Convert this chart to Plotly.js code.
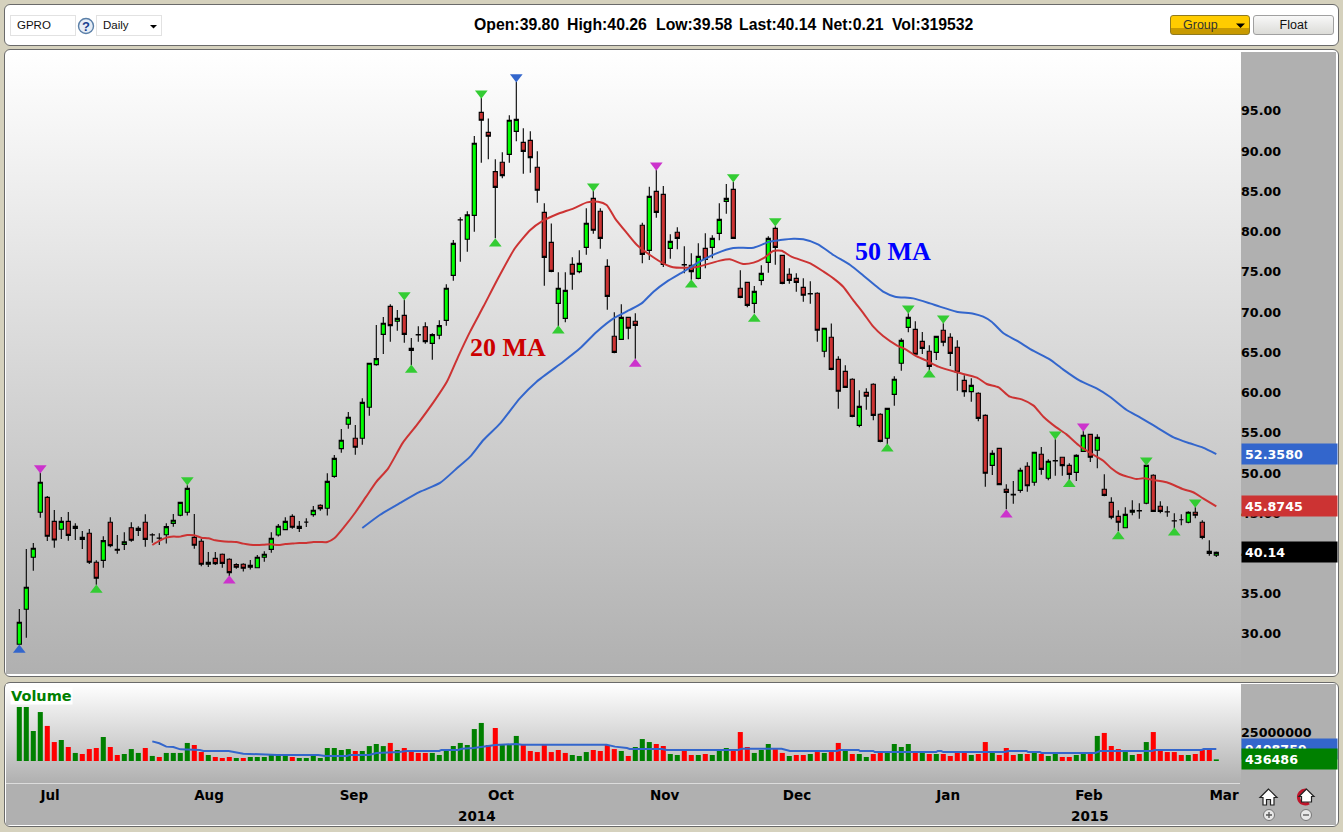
<!DOCTYPE html>
<html>
<head>
<meta charset="utf-8">
<script src="https://cdn.plot.ly/plotly-3.0.1.min.js"></script>
<style>
html,body{margin:0;padding:0;background:#d5d1bd;width:1343px;height:832px;overflow:hidden}
.abs{position:absolute;box-sizing:border-box}
.panel{border:1px solid #6a6a6a;border-radius:6px;background:#fff;overflow:hidden}
.ui{font-family:"Liberation Sans",Arial,sans-serif;font-size:12px;color:#111;white-space:nowrap}
.stat{font-family:"Liberation Sans",Arial,sans-serif;font-weight:bold;font-size:15.8px;color:#000;top:16px;white-space:nowrap}
#chart{position:absolute;left:0;top:0;width:1343px;height:832px}
</style>
</head>
<body>
<div class="abs panel" style="left:4px;top:4px;width:1335px;height:42px"></div>
<div class="abs ui" style="left:10px;top:15px;width:66px;height:21px;border:1px solid #e2e2e2;padding:3px 0 0 6px;font-size:11.5px">GPRO</div>
<svg class="abs" style="left:77px;top:17px" width="18" height="18"><circle cx="9" cy="9" r="7.5" fill="#e6edf6" stroke="#5a7fa8" stroke-width="1.4"/><text x="9" y="13.5" text-anchor="middle" font-family="Liberation Sans" font-weight="bold" font-size="13" fill="#1a3f8f">?</text></svg>
<div class="abs ui" style="left:96px;top:15px;width:66px;height:21px;border:1px solid #e2e2e2;padding:3px 0 0 6px;font-size:11.5px">Daily</div>
<svg class="abs" style="left:149px;top:24px" width="10" height="6"><path d="M1 1H8L4.5 4.5Z" fill="#000"/></svg>
<div id="stats"></div>
<div class="abs ui" style="left:1170px;top:15px;width:80px;height:20px;border:1px solid #8f7a20;border-radius:3px;background:linear-gradient(#ffcc00 0,#ffcc00 68%,#c89a00 68%,#c89a00 100%);padding:2px 0 0 12px;font-size:12.5px;color:#333">Group</div>
<svg class="abs" style="left:1235px;top:23px" width="11" height="6"><path d="M1 0.5H10L5.5 5Z" fill="#000"/></svg>
<div class="abs ui" style="left:1253px;top:15px;width:81px;height:20px;border:1px solid #a0a0a0;border-radius:3px;background:linear-gradient(#f8f8f8,#dcdcd8);text-align:center;padding-top:2px;font-size:12.5px">Float</div>

<div class="abs panel" style="left:4px;top:49px;width:1335px;height:628px"></div>
<div class="abs" style="left:6px;top:52px;width:1235px;height:622px;background:linear-gradient(#ffffff,#b0b0b0)"></div>
<div class="abs" style="left:1241px;top:52px;width:95px;height:622px;background:#b0b0b0"></div>

<div class="abs panel" style="left:4px;top:682px;width:1335px;height:145px"></div>
<div class="abs" style="left:6px;top:684px;width:1235px;height:99px;background:linear-gradient(#ffffff,#b0b0b0)"></div>
<div class="abs" style="left:6px;top:783px;width:1235px;height:42px;background:#b0b0b0"></div>
<div class="abs" style="left:1241px;top:684px;width:95px;height:141px;background:#b0b0b0"></div>

<div id="chart"></div>

<svg class="abs" style="left:1256px;top:786px" width="64" height="38">
  <path d="M12.5 3L4 11.5H7V19H10.5V13.5H14.5V19H18V11.5H21L12.5 3Z" fill="#fff" stroke="#222" stroke-width="1.2"/>
  <circle cx="13" cy="29" r="5.5" fill="#e8e8e8" stroke="#777"/><path d="M10 29H16M13 26V32" stroke="#555" stroke-width="1.3"/>
  <path d="M50 4a7 7 0 1 0 3 13" fill="none" stroke="#c0142a" stroke-width="3"/>
  <path d="M50.5 3L43 10.5H45.5V16H55.5V10.5H58L50.5 3Z" fill="#fff" stroke="#222" stroke-width="1.2"/>
  <circle cx="50" cy="29" r="5.5" fill="#e8e8e8" stroke="#777"/><path d="M47 29H53" stroke="#555" stroke-width="1.3"/>
</svg>

<script>
var opens = [
28.72,33.07,39.53,45.12,46.98,44.0,43.01,44.0,43.13,41.76,
42.51,38.91,39.15,43.88,40.52,41.14,43.21,42.88,43.88,42.34,
41.93,42.34,43.75,44.75,45.12,42.01,41.52,38.66,39.4,39.9,
39.28,38.62,38.66,38.53,38.24,39.53,40.52,42.3,42.97,44.62,
43.13,43.9,44.83,45.99,45.62,49.59,53.03,56.06,54.32,54.32,
58.17,63.47,67.24,70.72,68.86,69.6,65.5,67.2,68.19,66.12,
67.12,68.98,74.57,81.49,79.05,82.03,94.83,92.34,87.46,88.62,
89.61,92.47,91.1,91.35,88.0,82.4,78.67,71.09,69.23,75.94,
75.03,78.05,84.14,82.53,75.69,67.0,66.62,69.35,68.86,80.79,
77.68,85.01,84.64,77.93,79.92,75.9,75.82,74.2,77.93,78.05,
79.79,83.77,85.26,72.96,73.7,71.09,73.95,76.19,80.41,77.06,
74.7,74.2,73.08,72.3,72.34,65.13,66.87,64.13,62.64,61.65,
55.93,60.03,61.03,57.3,54.32,59.78,63.64,68.11,67.86,66.37,
65.13,65.0,67.74,66.87,65.63,61.52,60.12,59.91,57.17,50.96,
53.07,47.98,47.36,47.85,50.84,48.85,52.33,49.35,51.54,51.96,
50.96,50.09,52.7,54.81,52.83,47.98,46.36,44.62,43.2,45.12,
45.33,46.24,49.72,45.87,45.2,44.08,44.2,43.88,45.12,43.88,
40.27,39.80];
var highs = [
33.11,40.56,41.31,50.09,47.15,45.41,44.54,45.16,43.75,42.8,
43.05,39.15,42.14,44.5,42.3,42.63,43.88,43.38,44.87,42.51,
42.51,43.75,44.91,46.36,48.48,44.91,41.85,40.19,40.19,40.0,
39.4,38.78,38.78,39.2,39.82,40.27,42.63,43.67,44.5,44.87,
44.04,44.37,45.91,46.11,49.97,52.25,55.48,57.59,55.97,59.29,
63.72,68.4,69.4,70.97,70.26,71.51,66.78,68.24,68.73,67.37,
68.98,73.45,78.96,81.78,82.53,91.89,96.61,94.08,88.99,89.86,
94.46,98.64,92.84,92.47,89.98,83.52,81.03,74.95,74.95,76.81,
77.68,82.9,85.05,82.9,76.56,69.97,70.97,69.35,69.85,81.12,
85.59,87.66,85.67,79.67,80.54,78.18,77.31,78.55,79.79,79.54,
83.52,85.92,86.17,75.19,73.7,73.25,75.82,79.42,80.66,77.06,
75.44,74.82,74.2,73.83,72.46,67.99,68.6,64.51,63.39,61.77,
60.28,60.53,61.15,57.42,58.04,62.02,66.74,69.85,68.86,67.53,
65.87,66.99,68.61,67.37,66.49,62.15,61.77,60.03,57.3,52.83,
53.07,48.6,49.01,50.67,51.33,52.58,53.24,51.71,54.19,52.04,
51.21,52.33,55.23,54.81,54.81,49.84,46.98,45.37,45.74,46.61,
46.24,51.09,49.84,46.49,45.87,44.99,44.87,45.24,45.74,44.13,
41.64,40.26];
var lows = [
28.72,29.54,37.87,44.46,41.56,40.73,41.81,41.6,41.68,40.56,
38.7,36.13,38.24,40.77,39.98,40.44,41.47,42.18,40.85,41.35,
41.06,41.23,43.34,44.62,44.71,40.6,38.41,38.33,38.57,38.24,
37.21,38.12,37.75,38.0,38.16,38.99,40.11,42.1,42.88,43.09,
42.68,43.3,44.58,45.33,44.71,49.43,52.53,55.52,52.29,53.53,
57.13,63.35,64.8,66.33,67.7,66.2,63.43,66.33,66.08,64.09,
66.62,68.32,73.91,76.27,77.51,80.0,88.57,88.99,79.17,86.63,
88.57,91.23,87.21,87.33,83.6,73.29,74.95,68.28,68.73,72.79,
74.82,77.14,79.75,77.89,70.31,64.88,66.62,66.62,64.22,76.07,
76.48,81.74,75.61,76.64,77.8,74.82,74.03,74.08,75.44,76.69,
78.92,82.24,79.17,71.71,70.6,69.85,73.33,74.9,75.9,73.45,
73.54,72.54,71.3,71.05,66.33,64.38,62.77,58.0,60.65,56.93,
55.68,57.88,56.55,53.82,53.57,58.38,62.73,67.49,64.76,64.8,
62.77,64.05,65.75,63.31,60.24,59.49,58.87,56.43,48.31,49.76,
48.48,45.49,46.2,47.56,47.69,48.43,49.8,49.1,49.68,49.68,
48.72,49.01,52.7,51.38,50.59,47.11,44.25,42.76,43.13,44.75,
44.33,46.11,45.24,44.99,44.58,43.13,43.5,43.75,44.37,41.76,
39.73,39.58];
var closes = [
31.45,35.8,40.65,48.85,42.14,41.68,44.0,42.26,43.38,42.01,
38.91,36.92,41.6,40.98,40.4,41.47,41.64,43.13,41.76,42.3,
41.89,43.34,44.13,46.36,48.1,41.02,38.66,38.91,38.74,38.78,
37.62,38.29,38.16,38.29,39.53,39.9,41.89,43.38,44.0,43.26,
43.38,43.9,45.37,45.58,48.97,51.83,54.07,56.93,53.2,58.79,
63.64,64.22,68.61,68.32,69.23,67.24,65.25,67.16,66.33,67.2,
68.32,72.96,78.55,81.45,82.11,90.98,93.84,91.85,85.51,86.96,
93.84,93.96,89.98,89.2,85.14,76.81,75.07,72.96,72.71,74.7,
76.06,81.04,80.17,79.17,71.96,65.0,69.35,67.99,68.36,77.18,
84.39,82.4,75.94,78.8,79.17,75.86,75.03,76.93,76.56,79.17,
81.53,84.14,79.17,71.84,70.84,72.58,74.82,79.17,78.05,73.58,
73.95,73.7,72.09,72.25,67.74,67.99,62.89,60.16,60.65,57.05,
58.29,59.54,57.17,53.94,58.04,61.65,66.49,69.35,64.76,65.5,
63.26,66.99,66.25,64.88,62.52,60.12,60.9,56.8,49.97,52.45,
48.56,47.6,47.27,50.34,48.43,52.58,50.46,51.46,51.5,50.92,
49.84,52.2,54.69,51.96,54.44,47.23,44.5,43.88,44.87,45.37,
45.29,50.96,45.24,45.24,45.16,44.04,44.2,45.12,44.75,42.01,
40.02,40.14];

var volumeMillions = [
47,47,26.1,42.6,30.5,16.5,18.3,12.2,7,6.1,
10.4,11.3,20.9,12.2,5.2,6.1,10.4,7,11.3,4.4,
3.5,7,7,7,15.7,13.9,7.8,5.2,3.5,2.6,
3.5,2.6,2.6,3.5,3.5,3.5,5.2,5.2,4.4,3.5,
2.6,2.6,4.4,2.6,11.3,11.3,9.6,10.4,8.7,8.7,
13,14.8,13,15.7,9.6,11.3,8.7,7,7,7,
5.2,8.7,13.05,15.7,13.9,27.8,33.1,13.9,28.7,13.9,
13.9,21.8,13.9,8.7,7.8,13.9,7.8,9.6,7,5.2,
4.35,7.8,9.6,8.7,13.9,10.4,8.7,4.35,12.2,19.1,
16.5,14.8,13.05,6.1,5.2,8.7,5.2,5.2,6.1,5.2,
8.7,11.3,8.7,25.2,12.2,7,9.6,14.8,10.4,7,
4.35,5.2,5.2,6.1,7.8,7,7.8,15.7,8.7,6.1,
6.1,3.5,6.1,7,7,14.8,12.2,14.8,7,7,
6.1,6.1,6.1,4.35,7,7,5.2,6.1,16.5,7,
5.2,11.3,5.2,6.1,6.1,7,6.1,4.35,6.1,3.5,
3.5,5.2,6.1,6.1,21.8,24.4,13.05,10.4,7.8,5.2,
6.1,16.5,25.2,8.7,7.8,7.8,5.2,5.2,6.1,9.6,
10.4,1.4];
var volumeUp = [
1,1,1,1,0,0,1,0,1,0,
0,0,1,0,0,1,1,1,0,1,
0,1,1,1,1,0,0,1,0,0,
0,1,0,1,1,1,1,1,1,0,
1,1,1,1,1,1,1,1,0,1,
1,1,1,0,1,0,0,0,0,1,
1,1,1,1,1,1,1,0,0,1,
1,1,0,0,0,0,0,0,0,1,
1,1,0,0,0,0,1,0,1,1,
1,0,0,1,1,0,0,1,0,1,
1,1,0,0,0,1,1,1,0,0,
1,0,0,1,0,1,0,0,1,0,
1,1,0,0,1,1,1,1,0,1,
0,1,0,0,0,0,1,0,0,1,
0,0,0,1,0,1,0,1,1,0,
0,1,1,0,1,0,0,0,1,1,
0,1,0,0,0,0,0,1,0,0,
0,1];

var ma20Bar = [19,20,21,22,23,24,25,26,27,28,29,30,31,32,33,34,35,36,37,38,39,40,41,42,43,44,45,46.5,48,49.5,51,52.7,54.8,56.8,59.4,61.1,62.7,64.4,66.3,68.4,70.8,73,74.6,76.8,79.2,81.1,82.7,83.9,85.1,86.8,88.2,90.1,92,93.4,95.6,97,98.7,100.1,101.5,103.4,104.9,106.5,107.7,108.9,110.3,113,114.9,116.3,117.7,119.1,120.6,122,123.4,125.3,126.8,128,129.6,131.3,133.9,136.8,138.2,139.9,141.5,143.2,144.9,146.3,148,149.6,151.3,152.7,154.9,156,157.2,159.6,160.6,162,163.9,166.3,167.7,169.1,171];
var ma20Value = [41.06,41.56,41.97,42.1,42.1,42.3,42.26,41.97,41.89,41.64,41.52,41.47,41.43,41.23,41.1,41.06,41.1,41.14,41.06,41.18,41.23,41.31,41.31,41.43,41.43,41.43,41.89,43.4,45.1,47,48.9,50.59,53.78,55.98,59.09,61.37,64.48,67.58,70.69,74.21,77.94,80.22,81.25,82.16,82.9,83.64,83.73,83.31,81.66,79.82,78.37,77.1,76.06,75.57,75.53,75.65,76.06,76.4,76.56,75.98,76.15,76.81,77.6,77.64,76.89,76.06,75.03,74.2,73.16,71.51,69.85,68.19,67.03,65.91,65.29,64.59,63.97,63.22,62.52,61.86,61.07,60.65,59.49,59.16,58.38,57,55.77,54.81,53.49,52.66,51.5,50.59,49.88,49.26,49.35,49.14,48.85,47.98,47.61,46.86,45.87];

var ma50Bar = [49,51.5,54.4,57.2,60.1,62.4,64.4,66.3,68.7,71.5,73.9,77.7,80.1,82.5,84.9,87.2,88.9,90.6,92.5,94.9,97.2,99.6,102,104.9,107.2,108.7,110.6,112,114.1,116.3,118.7,120.6,122.2,123.4,125.1,127.7,130.1,131.5,133.9,136.3,137.7,138.9,140.6,142.5,144.9,147.2,149.1,151.5,153.9,155.8,158.2,160.1,162.5,164.9,167.2,169.1,171];
var ma50Value = [43.17,44.79,46.28,47.65,48.77,50.5,52.04,54.11,56.18,59.29,61.36,63.84,65.5,67.57,69.23,70.27,71.09,72.54,73.79,75.03,76.27,77.31,77.97,78.01,78.76,78.96,79.13,79.05,78.43,77.1,75.86,74.53,73.37,72.54,71.92,71.71,71.09,70.68,70.06,69.81,69.44,68.81,67.37,66.45,65.17,64.13,62.89,61.48,60.53,59.49,57.84,56.93,55.68,54.44,53.7,53.16,52.36];

var volMaBar = [19,20,21,22,23,25.8,26.3,29.9,32,36.8,42.7,43.7,46.8,47.2,50,51,54.3,55.3,60,60.3,62.7,63.2,64.9,66.3,68,71,71.8,83.9,85.1,86.8,87.2,91.8,92.5,102.7,103.2,108.9,110.1,116.8,117.2,119.9,120.1,122,122.2,131,131.2,131.7,132,140.8,141.3,143.9,144.1,145.8,146,153.7,154.4,161.8,162.2,168.9,169.2,171];
var volMaValue = [17.1,15.4,12.5,12.2,10.15,9.6,8.7,8.7,6.4,5.2,5.2,4.35,4.35,5.2,5.2,7,7.8,8.7,8.7,9.6,9.6,10.7,11.3,12.5,13.9,14.8,14.2,14.2,12.5,11.3,10.4,10.4,9.6,9.6,10.7,10.7,8.7,8.7,9.6,9.6,8.7,8.7,7.8,7.8,8.7,8.7,7.8,7.8,8.7,8.7,7.8,7.8,7,7,8.7,8.7,9.6,9.6,10.4,10.4];

var signalBar =   [0,3,11,24,30,55,56,66,68,71,77,82,88,91,96,102,105,108,124,127,130,132,141,148,150,152,157,161,165,168];
var signalPrice = [28.01,50.63,35.47,49.14,36.63,72.13,62.81,97.19,78.51,99.22,67.7,85.63,63.55,88.25,73.41,86.79,69.15,81.33,53.03,70.47,62.23,69.23,44.83,54.81,48.6,55.81,42.1,51.58,42.59,46.36];
var signalDir =   ['up','down','up','down','up','down','up','down','up','down','up','down','up','down','up','down','up','down','up','down','up','down','up','down','up','down','up','down','up','down'];
var signalKind =  ['blue','magenta','green','green','magenta','green','green','green','green','blue','green','green','magenta','magenta','green','green','green','green','green','green','green','green','magenta','green','green','magenta','green','green','green','green'];

var priceTicks = [30,35,40,45,50,55,60,65,70,75,80,85,90,95];
var monthLabels = ['Jul','Aug','Sep','Oct','Nov','Dec','Jan','Feb','Mar'];
var monthBars = [4.4,27.1,47.8,68.8,92.2,111.1,132.7,152.8,172.1];
var yearLabels = ['2014','2015'];
var yearBars = [65.4,153];
var statLabels = ['Open:39.80','High:40.26','Low:39.58','Last:40.14','Net:0.21','Vol:319532'];
var statLeft = [474,567,656,739,822,892];

statLabels.forEach(function(t,k){
  var d=document.createElement('div');d.className='abs stat';d.style.left=statLeft[k]+'px';d.textContent=t;
  document.getElementById('stats').appendChild(d);
});

var W=1343,H=832;
var barPx=7, firstBarPx=19.3, plotL=6, plotR=1240;
var xRange=[(plotL-firstBarPx)/barPx,(plotR-firstBarPx)/barPx];
var xDomain=[plotL/W,plotR/W];
var axisFont={family:'"DejaVu Sans",sans-serif',size:12.7,color:'#000',weight:'bold'};
var kindColor={green:'#33cc33',magenta:'#cc33cc',blue:'#3366cc'};
var bars=opens.map(function(_,i){return i;});

var data=[
 {type:'candlestick',x:bars,open:opens,high:highs,low:lows,close:closes,xaxis:'x',yaxis:'y',
  increasing:{line:{color:'#000',width:1.1},fillcolor:'#00ff00'},
  decreasing:{line:{color:'#000',width:1.1},fillcolor:'#cc3333'},hoverinfo:'skip',showlegend:false},
 {type:'scatter',mode:'lines',x:ma20Bar,y:ma20Value,xaxis:'x',yaxis:'y',line:{color:'#cc3333',width:2,shape:'spline',smoothing:0.6},hoverinfo:'skip'},
 {type:'scatter',mode:'lines',x:ma50Bar,y:ma50Value,xaxis:'x',yaxis:'y',line:{color:'#3366cc',width:2,shape:'spline',smoothing:0.6},hoverinfo:'skip'},
 {type:'scatter',mode:'markers',x:signalBar,y:signalPrice,xaxis:'x',yaxis:'y',hoverinfo:'skip',
  marker:{size:11,line:{width:0},
    symbol:signalDir.map(function(d){return d==='up'?'triangle-up':'triangle-down';}),
    color:signalKind.map(function(k){return kindColor[k];})}},
 {type:'bar',x:bars,y:volumeMillions,xaxis:'x2',yaxis:'y2',width:0.72,hoverinfo:'skip',
  marker:{color:volumeUp.map(function(u){return u?'#008000':'#ff0000';}),line:{width:0}}},
 {type:'scatter',mode:'lines',x:volMaBar,y:volMaValue,xaxis:'x2',yaxis:'y2',line:{color:'#3366cc',width:2},hoverinfo:'skip'}
];

function sideLabel(text,y,yref,bg){
  return {text:text,xref:'paper',yref:yref,x:1241/W,y:y,xanchor:'left',yanchor:'middle',showarrow:false,
    width:89,height:14,align:'left',bgcolor:bg,borderpad:3,
    font:{family:'"DejaVu Sans",sans-serif',size:12.7,color:'#fff',weight:'bold'}};
}

var layout={
 width:W,height:H,margin:{l:0,r:0,t:0,b:0},paper_bgcolor:'rgba(0,0,0,0)',plot_bgcolor:'rgba(0,0,0,0)',
 showlegend:false,boxgap:0.15,boxgroupgap:0.3,
 xaxis:{domain:xDomain,range:xRange,type:'linear',anchor:'y',showticklabels:false,showgrid:false,zeroline:false,ticks:'',showline:false,rangeslider:{visible:false}},
 yaxis:{domain:[1-673/H,1-52/H],range:[25.15,102.33],anchor:'x',side:'right',tickmode:'array',tickvals:priceTicks,
   ticktext:priceTicks.map(function(v){return v.toFixed(2);}),tickfont:axisFont,showgrid:false,zeroline:false,ticks:'',showline:false},
 xaxis2:{domain:xDomain,range:xRange,type:'linear',anchor:'y2',tickmode:'array',tickvals:monthBars,ticktext:monthLabels,
   tickfont:{family:'"DejaVu Sans",sans-serif',size:13.5,color:'#000',weight:'bold'},showgrid:false,zeroline:false,ticks:'',showline:true,linecolor:'#dcdcdc',linewidth:1},
 yaxis2:{domain:[1-783/H,1-685/H],range:[-19.14,66.12],anchor:'x2',side:'right',tickmode:'array',tickvals:[25],ticktext:['25000000'],
   tickfont:axisFont,showgrid:false,zeroline:false,ticks:'',showline:false},
 annotations:[
  {text:'20 MA',xref:'x',yref:'y',x:69.8,y:65.55,showarrow:false,font:{family:'"Liberation Serif",serif',size:26,color:'#cc0000',weight:'bold'}},
  {text:'50 MA',xref:'x',yref:'y',x:124.8,y:77.48,showarrow:false,font:{family:'"Liberation Serif",serif',size:26,color:'#0000ff',weight:'bold'}},
  sideLabel('52.3580',52.43,'y','#3366cc'),
  sideLabel('45.8745',45.9,'y','#cc3333'),
  sideLabel('40.14',40.19,'y','#000000'),
  sideLabel('9408759',10.4,'y2','#3366cc'),
  sideLabel('436486',1.5,'y2','#008000'),
  {text:'Volume',xref:'paper',yref:'paper',x:10/W,y:1-687/H,xanchor:'left',yanchor:'top',showarrow:false,bgcolor:'#ffffff',borderpad:0,
   font:{family:'"DejaVu Sans",sans-serif',size:14.5,color:'#008000',weight:'bold'}}
 ].concat(yearLabels.map(function(t,k){
   return {text:t,xref:'x2',yref:'paper',x:yearBars[k],y:1-816/H,showarrow:false,yanchor:'middle',
     font:{family:'"DejaVu Sans",sans-serif',size:13.5,color:'#000',weight:'bold'}};
 }))
};
Plotly.newPlot('chart',data,layout,{staticPlot:true,displayModeBar:false,responsive:false});
</script>
</body>
</html>
